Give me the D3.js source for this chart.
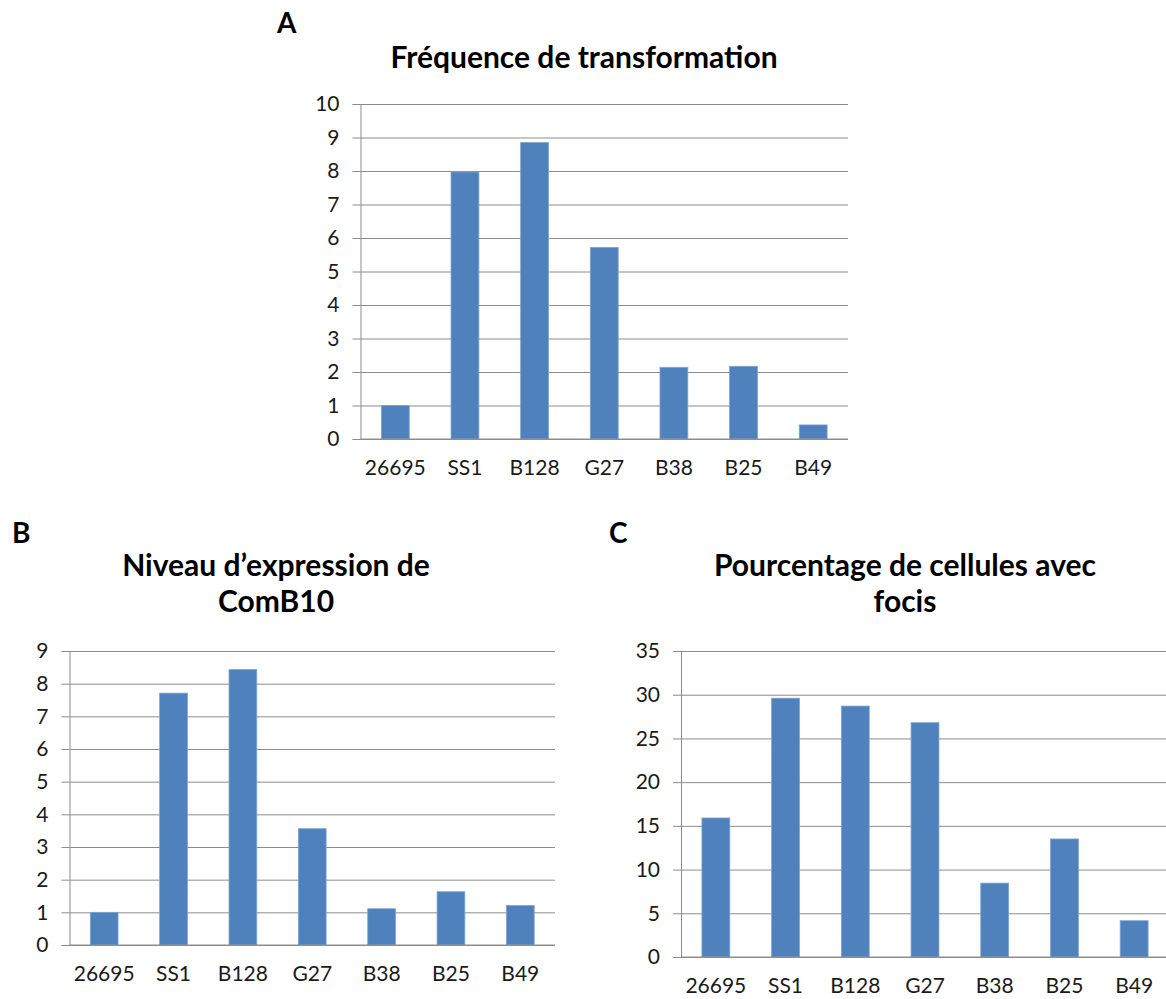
<!DOCTYPE html>
<html lang="fr">
<head>
  <meta charset="UTF-8">
  <title>Transformation, ComB10, focis</title>
  <script src="https://d3js.org/d3.v7.min.js"></script>
  <style>
    body { margin: 0; background: #fff; }
    svg text { font-family: Lato, "Open Sans", sans-serif; fill: #1a1a1a; }
    .tick line { stroke: #8c8c8c; }
    .domain { stroke: #8c8c8c; }
  </style>
</head>
<body>
  <div id="canvas"></div>
  <script>
    // values
    const strains = ['26695', 'SS1', 'B128', 'G27', 'B38', 'B25', 'B49'];
    const transformationFreq = [1.0, 7.97, 8.85, 5.72, 2.14, 2.17, 0.42];
    const comB10Expression = [1.0, 7.71, 8.43, 3.56, 1.11, 1.63, 1.21];
    const focisPercent = [15.9, 29.6, 28.7, 26.8, 8.45, 13.5, 4.15];
    const ticksA = [0, 1, 2, 3, 4, 5, 6, 7, 8, 9, 10];
    const ticksB = [0, 1, 2, 3, 4, 5, 6, 7, 8, 9];
    const ticksC = [0, 5, 10, 15, 20, 25, 30, 35];

    const width = 1166;
    const height = 999;
    const barColor = '#4f81bd';
    const gridColor = '#8c8c8c';

    const svg = d3.select('#canvas')
      .append('svg')
      .attr('width', width)
      .attr('height', height);

    function drawChart(opt) {
      const g = svg.append('g');

      const scaleX = d3.scaleBand()
        .domain(strains)
        .range([opt.left, opt.right])
        .paddingInner(0.6)
        .paddingOuter(0.3);

      const scaleY = d3.scaleLinear()
        .domain([0, d3.max(opt.ticks)])
        .range([opt.bottom, opt.top]);

      // gridlines + left ticks
      const yAxis = d3.axisLeft(scaleY)
        .tickValues(opt.ticks)
        .tickSize(8)
        .tickPadding(13)
        .tickFormat(d3.format('d'));
      const ya = g.append('g')
        .attr('transform', 'translate(' + opt.left + ',0)')
        .call(yAxis);
      ya.selectAll('.tick text').style('font-size', '21px');
      ya.selectAll('.tick')
        .append('line')
        .attr('x1', 0)
        .attr('x2', opt.right - opt.left)
        .attr('stroke', gridColor);

      g.selectAll('rect.bar')
        .data(opt.values)
        .enter()
        .append('rect')
        .attr('class', 'bar')
        .attr('x', (d, i) => scaleX(strains[i]))
        .attr('width', scaleX.bandwidth())
        .attr('y', d => scaleY(d))
        .attr('height', d => scaleY(0) - scaleY(d))
        .attr('fill', barColor)
        .attr('stroke', '#7fa3d0')
        .attr('stroke-width', 0.8);

      const xAxis = d3.axisBottom(scaleX).tickSize(0).tickPadding(21);
      const xa = g.append('g')
        .attr('transform', 'translate(0,' + opt.bottom + ')')
        .call(xAxis);
      xa.select('.domain').attr('d', 'M' + opt.left + ',0H' + opt.right);
      xa.selectAll('.tick text').style('font-size', '21px');

      g.append('text')
        .attr('x', opt.letterX)
        .attr('y', opt.letterY)
        .style('font-size', '28px')
        .style('font-weight', 'bold')
        .style('fill', '#000')
        .text(opt.letter);

      opt.title.forEach((line, i) => {
        g.append('text')
          .attr('x', opt.titleX)
          .attr('y', opt.titleY + i * 36)
          .attr('text-anchor', 'middle')
          .style('font-size', '30px')
          .style('font-weight', 'bold')
          .style('fill', '#000')
          .text(line);
      });
    }

    drawChart({
      values: transformationFreq, ticks: ticksA,
      left: 360.5, right: 848, top: 104, bottom: 439,
      letter: 'A', letterX: 277, letterY: 33,
      title: ['Fréquence de transformation'], titleX: 584, titleY: 68
    });

    drawChart({
      values: comB10Expression, ticks: ticksB,
      left: 69.5, right: 555, top: 651, bottom: 945,
      letter: 'B', letterX: 12, letterY: 543,
      title: ['Niveau d’expression de', 'ComB10'], titleX: 276, titleY: 576
    });

    drawChart({
      values: focisPercent, ticks: ticksC,
      left: 681, right: 1169, top: 651, bottom: 957,
      letter: 'C', letterX: 609, letterY: 543,
      title: ['Pourcentage de cellules avec', 'focis'], titleX: 905, titleY: 576
    });
  </script>
</body>
</html>
